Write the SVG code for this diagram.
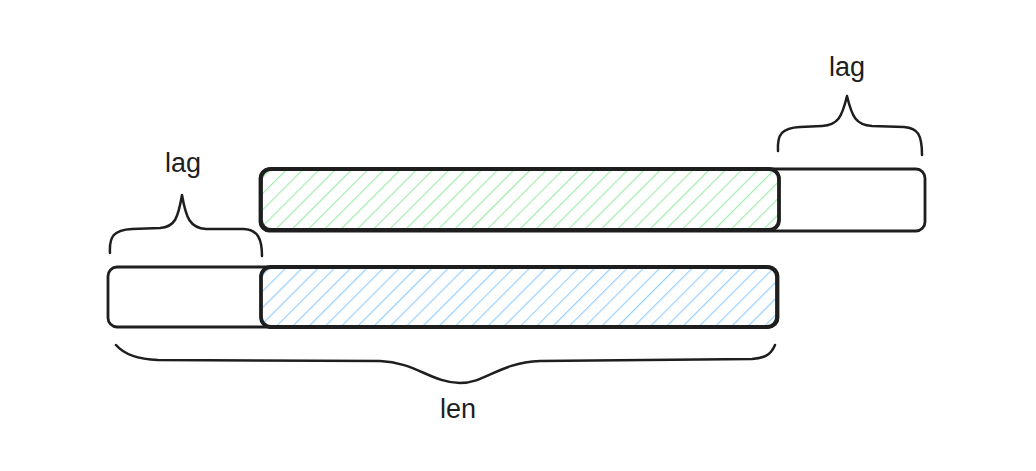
<svg xmlns="http://www.w3.org/2000/svg" width="1036" height="471" viewBox="0 0 1036 471">
<style>
.box{fill:#ffffff;stroke:#1e1e1e;stroke-width:2.8}
.hb{stroke:#1e1e1e;stroke-width:3.8}
.brace{fill:none;stroke:#1e1e1e;stroke-width:2.5;stroke-linecap:round;stroke-linejoin:round}
.lbl{font-family:"Liberation Sans",Arial,sans-serif;font-size:27px;fill:#1e1e1e;text-anchor:middle}
</style>
<defs>
<pattern id="hg" patternUnits="userSpaceOnUse" width="11.5" height="11.5" patternTransform="rotate(45)">
<rect width="11.5" height="11.5" fill="#ffffff"/>
<line x1="0" y1="0" x2="0" y2="11.5" stroke="#a3ecae" stroke-width="2.4"/>
</pattern>
<pattern id="hb" patternUnits="userSpaceOnUse" width="11.5" height="11.5" patternTransform="rotate(45)">
<rect width="11.5" height="11.5" fill="#ffffff"/>
<line x1="0" y1="0" x2="0" y2="11.5" stroke="#99d1ff" stroke-width="2.4"/>
</pattern>
</defs>
<rect width="1036" height="471" fill="#ffffff"/>
<g id="top-bar">
<rect class="box" x="260" y="169" width="665" height="62" rx="9"/>
</g>
<g id="top-green">
<rect class="hb" x="261" y="169" width="518" height="61" rx="10" fill="url(#hg)"/>
</g>
<g id="bottom-bar">
<rect class="box" x="108" y="267" width="670" height="60" rx="9"/>
</g>
<g id="bottom-blue">
<rect class="hb" x="261" y="267" width="516" height="60" rx="10" fill="url(#hb)"/>
</g>
<g id="connectors">
<path class="brace" d="M110,253 C109,236 114,230 132,229 L160,228 C175,227 178,218 182,195 C186,218 190,228 206,229 L244,229 C258,230 262,239 262,256"/>
<path class="brace" d="M778,151 C777,134 782,128 800,127 L822,126 C838,125 842,117 847,96 C852,117 856,125 872,126 L904,127 C918,128 922,135 922,155"/>
<path class="brace" d="M116,345 C122,352 132,359 158,360 L380,361 C415,362 432,383 460,383 C486,383 498,363 540,361 L752,359 C768,358 772,352 775,345"/>
</g>
<g id="label-lag-left"><text class="lbl" x="183" y="172">lag</text></g>
<g id="label-lag-right"><text class="lbl" x="847" y="76">lag</text></g>
<g id="label-len"><text class="lbl" x="458" y="418">len</text></g>
</svg>
